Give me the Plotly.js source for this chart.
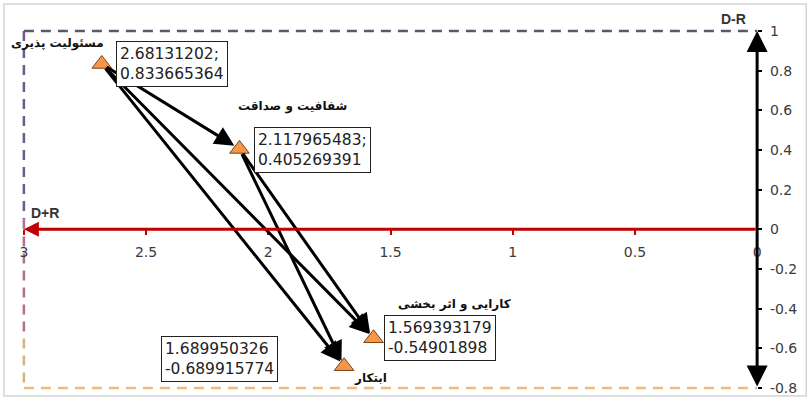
<!DOCTYPE html>
<html>
<head>
<meta charset="utf-8">
<script src="https://cdn.plot.ly/plotly-3.0.1.min.js"></script>
<style>
  html, body { margin: 0; padding: 0; background: #fff; }
  #chart { width: 809px; height: 400px; }
</style>
</head>
<body>
<div id="chart"></div>
<script>
// criteria and their D+R / D-R values
const criteria = ['مسئولیت پذیری', 'شفافیت و صداقت', 'کارایی و اثر بخشی', 'ابتکار'];
const dPlusR = [2.68131202, 2.117965483, 1.569393179, 1.689950326];
const dMinusR = [0.833665364, 0.405269391, -0.54901898, -0.689915774];
const separators = [';', ';', '', ''];

// cause -> effect arrows (index pairs)
const links = [[0, 1], [0, 2], [0, 3], [1, 2], [1, 3]];

const xTicks = [3, 2.5, 2, 1.5, 1, 0.5, 0];
const yTicks = [1, 0.8, 0.6, 0.4, 0.2, 0, -0.2, -0.4, -0.6, -0.8];

const X_MAX = 3, X_MIN = 0, Y_MAX = 1, Y_MIN = -0.8;

const numFont = { family: 'DejaVu Sans, sans-serif', size: 15.5, color: '#222' };
const faFont = { family: 'DejaVu Sans, sans-serif', size: 12, color: '#111' };
const tickFont = { family: 'DejaVu Sans, sans-serif', size: 14, color: '#3a3a3a' };

// placement of the labels around each point (pixels)
const boxPlace = [
    { xanchor: 'left', xshift: 14, yshift: 0 },
    { xanchor: 'left', xshift: 15, yshift: -1 },
    { xanchor: 'left', xshift: 10, yshift: 0 },
    { xanchor: 'right', xshift: -66, yshift: 7 }
];
const namePlace = [
    { xanchor: 'right', xshift: 4, yshift: 20 },
    { xanchor: 'left', xshift: -3, yshift: 42 },
    { xanchor: 'left', xshift: 22, yshift: 34 },
    { xanchor: 'left', xshift: 8, yshift: -12 }
];

const trace = {
    x: dPlusR,
    y: dMinusR,
    mode: 'markers',
    type: 'scatter',
    marker: {
        symbol: 'triangle-up',
        size: 17,
        color: '#f79646',
        line: { color: '#7a4218', width: 1 }
    },
    hoverinfo: 'x+y',
    showlegend: false
};

const annotations = [];

// arrows between criteria
links.forEach(([from, to]) => {
    annotations.push({
        x: dPlusR[to], y: dMinusR[to],
        ax: dPlusR[from], ay: dMinusR[from],
        xref: 'x', yref: 'y', axref: 'x', ayref: 'y',
        showarrow: true, arrowhead: 2, arrowsize: 1.3, arrowwidth: 3,
        arrowcolor: '#000', standoff: 6, startstandoff: 4, text: ''
    });
});

// value boxes and names
criteria.forEach((name, i) => {
    annotations.push({
        x: dPlusR[i], y: dMinusR[i], xref: 'x', yref: 'y',
        text: dPlusR[i] + separators[i] + '<br>' + dMinusR[i],
        showarrow: false, align: 'left',
        xanchor: boxPlace[i].xanchor, yanchor: 'middle',
        xshift: boxPlace[i].xshift, yshift: boxPlace[i].yshift,
        bgcolor: '#fff', bordercolor: '#222', borderwidth: 1, borderpad: 3,
        font: numFont
    });
    annotations.push({
        x: dPlusR[i], y: dMinusR[i], xref: 'x', yref: 'y',
        text: '<b>' + name + '</b>', showarrow: false,
        xanchor: namePlace[i].xanchor, yanchor: 'middle',
        xshift: namePlace[i].xshift, yshift: namePlace[i].yshift,
        font: faFont
    });
});

// axis arrows
annotations.push({
    x: X_MIN, y: Y_MAX, ax: X_MIN, ay: Y_MIN,
    xref: 'x', yref: 'y', axref: 'x', ayref: 'y',
    showarrow: true, arrowhead: 2, arrowside: 'end+start', arrowsize: 1.4, arrowwidth: 3,
    arrowcolor: '#000', text: ''
});
annotations.push({
    x: X_MAX, y: 0, ax: X_MIN, ay: 0,
    xref: 'x', yref: 'y', axref: 'x', ayref: 'y',
    showarrow: true, arrowhead: 2, arrowsize: 1, arrowwidth: 3,
    arrowcolor: '#c00000', text: ''
});

// axis names
annotations.push({
    x: X_MAX, y: 0, xref: 'x', yref: 'y', text: '<b>D+R</b>',
    showarrow: false, xanchor: 'left', yanchor: 'bottom', xshift: 5, yshift: 6,
    font: { family: 'Liberation Sans, Arial, sans-serif', size: 14, color: '#333' }
});
annotations.push({
    x: X_MIN, y: Y_MAX, xref: 'x', yref: 'y', text: '<b>D-R</b>',
    showarrow: false, xanchor: 'right', yanchor: 'bottom', xshift: -9, yshift: 2,
    font: { family: 'Liberation Sans, Arial, sans-serif', size: 14, color: '#333' }
});

const dash = (x0, y0, x1, y1, color) => ({
    type: 'line', xref: 'x', yref: 'y', x0, y0, x1, y1, layer: 'below',
    line: { color, width: 2.5, dash: '10px,7px' }
});

const shapes = [
    // outer frame
    { type: 'rect', xref: 'paper', yref: 'paper', x0: -0.0202, x1: 1.0595, y0: -0.0112, y1: 1.063,
      line: { color: '#d4d4d4', width: 1.5 }, layer: 'below' },
    dash(X_MAX, Y_MAX, X_MIN, Y_MAX, '#5a576f'),
    dash(X_MAX, Y_MAX, X_MAX, 0.05, '#6e5a8e'),
    dash(X_MAX, 0.05, X_MAX, -0.55, '#b0708f'),
    dash(X_MAX, -0.55, X_MAX, Y_MIN, '#d8b27e'),
    dash(X_MAX, Y_MIN, X_MIN, Y_MIN, '#ebbd7c')
];

const layout = {
    width: 809,
    height: 400,
    paper_bgcolor: '#fff',
    plot_bgcolor: '#fff',
    margin: { l: 19, r: 47, t: 27, b: 8 },
    showlegend: false,
    xaxis: {
        range: [3.02, -0.02],
        tickvals: xTicks,
        ticktext: xTicks.map(String),
        showgrid: false, zeroline: false, showline: false,
        anchor: 'free', position: 0.4457,
        ticks: 'outside', ticklen: 5, tickwidth: 2, tickcolor: '#c00000',
        ticklabelstandoff: 5,
        tickfont: tickFont
    },
    yaxis: {
        range: [-0.82, 1.02],
        tickvals: yTicks,
        ticktext: yTicks.map(String),
        showgrid: false, zeroline: false, showline: false,
        side: 'right', anchor: 'free', position: 0.9934,
        ticks: 'outside', ticklen: 4, tickwidth: 2, tickcolor: '#000',
        ticklabelstandoff: 5,
        tickfont: tickFont
    },
    shapes: shapes,
    annotations: annotations
};

Plotly.newPlot('chart', [trace], layout, { displayModeBar: false, responsive: false });
</script>
</body>
</html>
